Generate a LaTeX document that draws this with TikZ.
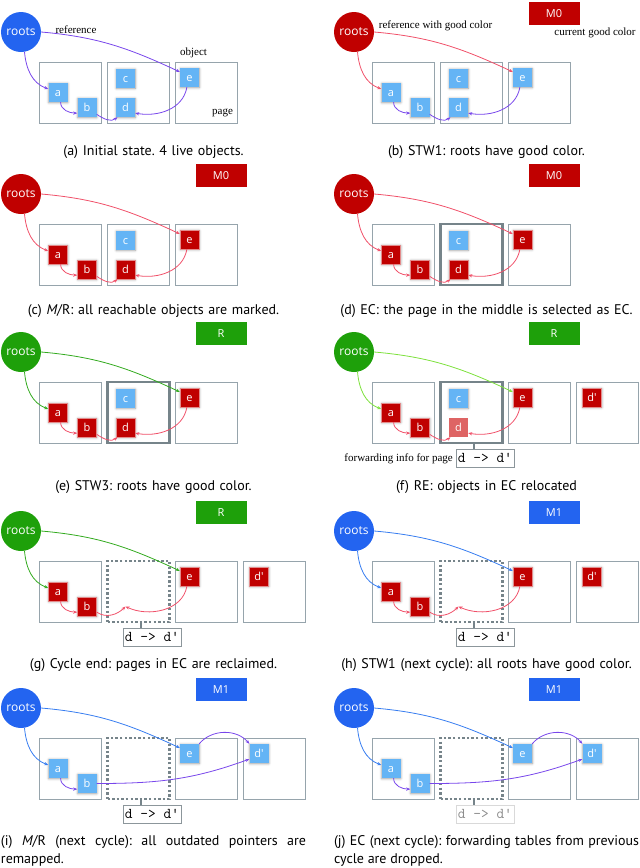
\documentclass[tikz,border=0pt]{standalone}
\usepackage{fontspec}
\usepackage{xcolor}
\usepackage{tikz}
\usetikzlibrary{arrows.meta, positioning, shadows.blur}
\newfontfamily\capfont{PT Sans}
\newfontfamily\objfont{Open Sans}
\newfontfamily\notefont{Liberation Serif}
\definecolor{liveblue}{RGB}{100,180,245}
\definecolor{markred}{RGB}{192,0,0}
\definecolor{movedred}{RGB}{222,100,100}
\definecolor{rootblue}{RGB}{35,100,240}
\definecolor{rootgreen}{RGB}{30,160,10}
\definecolor{pagegray}{RGB}{150,164,172}
\definecolor{ecgray}{RGB}{118,132,138}
\definecolor{refpurple}{RGB}{120,70,235}
\definecolor{goodred}{RGB}{240,80,105}
\definecolor{goodgreen}{RGB}{50,170,30}
\definecolor{lightgreen}{RGB}{125,225,60}
\definecolor{goodblue}{RGB}{55,125,240}
\definecolor{fwdgray}{RGB}{140,150,155}
\frenchspacing

\begin{document}
\begin{tikzpicture}[x=1pt, y=1pt, >={Stealth[length=4pt, width=3.2pt]},
  pagebox/.style={draw=pagegray, line width=0.9pt, minimum width=62pt, minimum height=61pt, inner sep=0pt},
  ecbox/.style={pagebox, draw=ecgray, line width=2.2pt},
  freedbox/.style={pagebox, draw=ecgray, line width=2.6pt, dash pattern=on 2.4pt off 2.2pt},
  soft/.style={blur shadow={shadow xshift=0.3pt, shadow yshift=-0.6pt, shadow blur radius=2.4pt, shadow opacity=40}},
  objbox/.style={minimum size=19pt, inner sep=0pt, text height=8pt, text depth=0pt, text=white, font=\objfont\fontsize{11}{12}\selectfont},
  liveobj/.style={objbox, soft, fill=liveblue},
  markobj/.style={objbox, soft, fill=markred, draw=markred!45!white, line width=0.5pt},
  movedobj/.style={objbox, fill=movedred},
  rootcircle/.style={circle, minimum size=40pt, inner sep=0pt, text=white, font=\objfont\fontsize{12}{13}\selectfont},
  colorbox/.style={minimum width=51pt, minimum height=22.7pt, inner sep=0pt, text=white, font=\objfont\fontsize{11}{12}\selectfont},
  fwdtable/.style={draw=fwdgray, fill=white, line width=0.8pt, inner xsep=2pt, inner ysep=4.5pt, text height=9pt, text depth=0pt, font=\ttfamily\fontsize{15}{16}\selectfont},
  fwdline/.style={draw=ecgray, line width=1.1pt},
  refarrow/.style={->, line width=0.8pt},
  note/.style={font=\notefont\fontsize{11}{12}\selectfont, inner sep=0pt},
  caption/.style={text width=305pt, align=center, inner sep=0pt, font=\capfont\fontsize{14}{18}\selectfont}]
  \useasboundingbox (0,0) rectangle (640,-868);

  % (a) initial state
  \begin{scope}[shift={(0,-62)}, name prefix=a-]
    \node[rootcircle, fill=rootblue] (roots) at (21,30) {roots};
    \foreach \i/\x in {1/70.5, 2/138.5, 3/206.5}
      \node[pagebox] (p\i) at (\x,-30.5) {};
    \node[liveobj] (a) at (58,-30.5) {a};
    \node[liveobj] (b) at (87,-45.5) {b};
    \node[liveobj] (c) at (125.5,-16.3) {c};
    \node[liveobj] (d) at (125.5,-45.5) {d};
    \node[liveobj] (e) at (189.5,-15.5) {e};
    \draw[refarrow, refpurple] (roots.-80) to[out=-85, in=160] (a.160);
    \draw[refarrow, refpurple] (roots.east) to[out=-5, in=155] (e.150);
    \draw[refarrow, refpurple] (a.-75) to[out=-90, in=180] (b.-150);
    \draw[refarrow, refpurple] (b.-35) to[out=-35, in=-140] (d.-130);
    \draw[refarrow, refpurple] (e.-105) to[out=-100, in=-10] (d.-30);
    \node[note] (lref) at (76,32) {reference};
    \node[note] (lobj) at (193.5,8.7) {object};
    \node[note] (lpage) at (222.5,-51.3) {page};
    \node[caption] (cap) at (153.5,-90) {(a) Initial state. 4 live objects.};
  \end{scope}

  % (b) STW1
  \begin{scope}[shift={(333,-62)}, name prefix=b-]
    \node[rootcircle, fill=markred] (roots) at (21,30) {roots};
    \foreach \i/\x in {1/70.5, 2/138.5, 3/206.5}
      \node[pagebox] (p\i) at (\x,-30.5) {};
    \node[liveobj] (a) at (58,-30.5) {a};
    \node[liveobj] (b) at (87,-45.5) {b};
    \node[liveobj] (c) at (125.5,-16.3) {c};
    \node[liveobj] (d) at (125.5,-45.5) {d};
    \node[liveobj] (e) at (189.5,-15.5) {e};
    \draw[refarrow, goodred] (roots.-80) to[out=-85, in=160] (a.160);
    \draw[refarrow, goodred] (roots.east) to[out=-5, in=155] (e.150);
    \draw[refarrow, refpurple] (a.-75) to[out=-90, in=180] (b.-150);
    \draw[refarrow, refpurple] (b.-35) to[out=-35, in=-140] (d.-130);
    \draw[refarrow, refpurple] (e.-105) to[out=-100, in=-10] (d.-30);
    \node[colorbox, fill=markred] (gc) at (221,48.5) {M0};
    \node[note] (lref) at (102.5,35.7) {reference with good color};
    \node[note] (lgc) at (262,29.4) {current good color};
    \node[caption] (cap) at (153.5,-90) {(b) STW1: roots have good color.};
  \end{scope}

  % (c) mark
  \begin{scope}[shift={(0,-224)}, name prefix=c-]
    \node[rootcircle, fill=markred] (roots) at (21,30) {roots};
    \foreach \i/\x in {1/70.5, 2/138.5, 3/206.5}
      \node[pagebox] (p\i) at (\x,-30.5) {};
    \node[markobj] (a) at (58,-30.5) {a};
    \node[markobj] (b) at (87,-45.5) {b};
    \node[liveobj] (c) at (125.5,-16.3) {c};
    \node[markobj] (d) at (125.5,-45.5) {d};
    \node[markobj] (e) at (189.5,-15.5) {e};
    \draw[refarrow, goodred] (roots.-80) to[out=-85, in=160] (a.160);
    \draw[refarrow, goodred] (roots.east) to[out=-5, in=155] (e.150);
    \draw[refarrow, goodred] (a.-75) to[out=-90, in=180] (b.-150);
    \draw[refarrow, goodred] (b.-35) to[out=-35, in=-140] (d.-130);
    \draw[refarrow, goodred] (e.-105) to[out=-100, in=-10] (d.-30);
    \node[colorbox, fill=markred] (gc) at (221,48.5) {M0};
    \node[caption] (cap) at (153.5,-87) {(c) {\itshape M}/R: all reachable objects are marked.};
  \end{scope}

  % (d) EC selection
  \begin{scope}[shift={(333,-224)}, name prefix=d-]
    \node[rootcircle, fill=markred] (roots) at (21,30) {roots};
    \foreach \i/\x in {1/70.5, 3/206.5}
      \node[pagebox] (p\i) at (\x,-30.5) {};
    \node[ecbox] (p2) at (138.5,-30.5) {};
    \node[markobj] (a) at (58,-30.5) {a};
    \node[markobj] (b) at (87,-45.5) {b};
    \node[liveobj] (c) at (125.5,-16.3) {c};
    \node[markobj] (d) at (125.5,-45.5) {d};
    \node[markobj] (e) at (189.5,-15.5) {e};
    \draw[refarrow, goodred] (roots.-80) to[out=-85, in=160] (a.160);
    \draw[refarrow, goodred] (roots.east) to[out=-5, in=155] (e.150);
    \draw[refarrow, goodred] (a.-75) to[out=-90, in=180] (b.-150);
    \draw[refarrow, goodred] (b.-35) to[out=-35, in=-140] (d.-130);
    \draw[refarrow, goodred] (e.-105) to[out=-100, in=-10] (d.-30);
    \node[colorbox, fill=markred] (gc) at (221,48.5) {M0};
    \node[caption] (cap) at (153.5,-87) {(d) EC: the page in the middle is selected as EC.};
  \end{scope}

  % (e) STW3
  \begin{scope}[shift={(0,-382)}, name prefix=e-]
    \node[rootcircle, fill=rootgreen] (roots) at (21,30) {roots};
    \foreach \i/\x in {1/70.5, 3/206.5}
      \node[pagebox] (p\i) at (\x,-30.5) {};
    \node[ecbox] (p2) at (138.5,-30.5) {};
    \node[markobj] (a) at (58,-30.5) {a};
    \node[markobj] (b) at (87,-45.5) {b};
    \node[liveobj] (c) at (125.5,-16.3) {c};
    \node[markobj] (d) at (125.5,-45.5) {d};
    \node[markobj] (e) at (189.5,-15.5) {e};
    \draw[refarrow, goodgreen] (roots.-80) to[out=-85, in=160] (a.160);
    \draw[refarrow, goodgreen] (roots.east) to[out=-5, in=155] (e.150);
    \draw[refarrow, goodred] (a.-75) to[out=-90, in=180] (b.-150);
    \draw[refarrow, goodred] (b.-35) to[out=-35, in=-140] (d.-130);
    \draw[refarrow, goodred] (e.-105) to[out=-100, in=-10] (d.-30);
    \node[colorbox, fill=rootgreen] (gc) at (221,48.5) {R};
    \node[caption] (cap) at (153.5,-105) {(e) STW3: roots have good color.};
  \end{scope}

  % (f) relocation
  \begin{scope}[shift={(333,-382)}, name prefix=f-]
    \node[rootcircle, fill=rootgreen] (roots) at (21,30) {roots};
    \foreach \i/\x in {1/70.5, 3/206.5, 4/274.5}
      \node[pagebox] (p\i) at (\x,-30.5) {};
    \node[ecbox] (p2) at (138.5,-30.5) {};
    \node[markobj] (a) at (58,-30.5) {a};
    \node[markobj] (b) at (87,-45.5) {b};
    \node[liveobj] (c) at (125.5,-16.3) {c};
    \node[movedobj] (d) at (125.5,-45.5) {d};
    \node[markobj] (e) at (189.5,-15.5) {e};
    \node[markobj] (dnew) at (259,-15.5) {d\textquotesingle};
    \draw[refarrow, lightgreen] (roots.-80) to[out=-85, in=160] (a.160);
    \draw[refarrow, lightgreen] (roots.east) to[out=-5, in=155] (e.150);
    \draw[refarrow, goodred] (a.-75) to[out=-90, in=180] (b.-150);
    \draw[refarrow, goodred] (b.-35) to[out=-35, in=-140] (d.-130);
    \draw[refarrow, goodred] (e.-105) to[out=-100, in=-10] (d.-30);
    \node[colorbox, fill=rootgreen] (gc) at (221,48.5) {R};
    \node[fwdtable] (fwd) at (152,-76) {d -> d\textquotesingle};
    \draw[fwdline] ([xshift=2.5pt]p2.south) -- ([xshift=2.5pt]p2.south |- fwd.north);
    \node[note, left=2.5pt of fwd, yshift=-1pt] (lfwd) {forwarding info for page};
    \node[caption] (cap) at (153.5,-105) {(f) RE: objects in EC relocated};
  \end{scope}

  % (g) cycle end
  \begin{scope}[shift={(0,-561)}, name prefix=g-]
    \node[rootcircle, fill=rootgreen] (roots) at (21,30) {roots};
    \foreach \i/\x in {1/70.5, 3/206.5, 4/274.5}
      \node[pagebox] (p\i) at (\x,-30.5) {};
    \node[freedbox] (p2) at (138.5,-30.5) {};
    \node[markobj] (a) at (58,-30.5) {a};
    \node[markobj] (b) at (87,-45.5) {b};
    \node[markobj] (e) at (189.5,-15.5) {e};
    \node[markobj] (dnew) at (259,-15.5) {d\textquotesingle};
    \coordinate (dold) at (125.5,-45.5);
    \draw[refarrow, goodgreen] (roots.-80) to[out=-85, in=160] (a.160);
    \draw[refarrow, goodgreen] (roots.east) to[out=-5, in=155] (e.150);
    \draw[refarrow, goodred] (a.-75) to[out=-90, in=180] (b.-150);
    \draw[refarrow, goodred] (b.-30) to[out=-35, in=-135] (dold);
    \draw[refarrow, goodred] (e.-105) to[out=-100, in=-25] (dold);
    \node[colorbox, fill=rootgreen] (gc) at (221,48.5) {R};
    \node[fwdtable] (fwd) at (152,-76) {d -> d\textquotesingle};
    \draw[fwdline] ([xshift=2.5pt]p2.south) -- ([xshift=2.5pt]p2.south |- fwd.north);
    \node[caption] (cap) at (153.5,-104) {(g) Cycle end: pages in EC are reclaimed.};
  \end{scope}

  % (h) STW1, next cycle
  \begin{scope}[shift={(333,-561)}, name prefix=h-]
    \node[rootcircle, fill=rootblue] (roots) at (21,30) {roots};
    \foreach \i/\x in {1/70.5, 3/206.5, 4/274.5}
      \node[pagebox] (p\i) at (\x,-30.5) {};
    \node[freedbox] (p2) at (138.5,-30.5) {};
    \node[markobj] (a) at (58,-30.5) {a};
    \node[markobj] (b) at (87,-45.5) {b};
    \node[markobj] (e) at (189.5,-15.5) {e};
    \node[markobj] (dnew) at (259,-15.5) {d\textquotesingle};
    \coordinate (dold) at (125.5,-45.5);
    \draw[refarrow, goodblue] (roots.-80) to[out=-85, in=160] (a.160);
    \draw[refarrow, goodblue] (roots.east) to[out=-5, in=155] (e.150);
    \draw[refarrow, goodred] (a.-75) to[out=-90, in=180] (b.-150);
    \draw[refarrow, goodred] (b.-30) to[out=-35, in=-135] (dold);
    \draw[refarrow, goodred] (e.-105) to[out=-100, in=-25] (dold);
    \node[colorbox, fill=rootblue] (gc) at (221,48.5) {M1};
    \node[fwdtable] (fwd) at (152,-76) {d -> d\textquotesingle};
    \draw[fwdline] ([xshift=2.5pt]p2.south) -- ([xshift=2.5pt]p2.south |- fwd.north);
    \node[caption] (cap) at (153.5,-104) {(h) STW1 (next cycle): all roots have good color.};
  \end{scope}

  % (i) remap
  \begin{scope}[shift={(0,-738)}, name prefix=i-]
    \node[rootcircle, fill=rootblue] (roots) at (21,30) {roots};
    \foreach \i/\x in {1/70.5, 3/206.5, 4/274.5}
      \node[pagebox] (p\i) at (\x,-30.5) {};
    \node[freedbox] (p2) at (138.5,-30.5) {};
    \node[liveobj] (a) at (58,-30.5) {a};
    \node[liveobj] (b) at (87,-45.5) {b};
    \node[liveobj] (e) at (189.5,-15.5) {e};
    \node[liveobj] (dnew) at (259,-15.5) {d\textquotesingle};
    \draw[refarrow, goodblue] (roots.-80) to[out=-85, in=160] (a.160);
    \draw[refarrow, goodblue] (roots.east) to[out=-5, in=155] (e.150);
    \draw[refarrow, refpurple] (a.-75) to[out=-90, in=180] (b.-150);
    \draw[refarrow, refpurple] (b.east) to[out=0, in=200] (dnew.-150);
    \draw[refarrow, refpurple] (e.45) to[out=50, in=130] (dnew.135);
    \node[colorbox, fill=rootblue] (gc) at (221,48.5) {M1};
    \node[fwdtable] (fwd) at (152,-76) {d -> d\textquotesingle};
    \draw[fwdline] ([xshift=2.5pt]p2.south) -- ([xshift=2.5pt]p2.south |- fwd.north);
    \node[caption, align=justify, anchor=north] (cap) at (153.5,-97) {(i) {\itshape M}/R (next cycle): all outdated pointers are\linebreak remapped.};
  \end{scope}

  % (j) EC, next cycle
  \begin{scope}[shift={(333,-738)}, name prefix=j-]
    \node[rootcircle, fill=rootblue] (roots) at (21,30) {roots};
    \foreach \i/\x in {1/70.5, 3/206.5, 4/274.5}
      \node[pagebox] (p\i) at (\x,-30.5) {};
    \node[freedbox] (p2) at (138.5,-30.5) {};
    \node[liveobj] (a) at (58,-30.5) {a};
    \node[liveobj] (b) at (87,-45.5) {b};
    \node[liveobj] (e) at (189.5,-15.5) {e};
    \node[liveobj] (dnew) at (259,-15.5) {d\textquotesingle};
    \draw[refarrow, goodblue] (roots.-80) to[out=-85, in=160] (a.160);
    \draw[refarrow, goodblue] (roots.east) to[out=-5, in=155] (e.150);
    \draw[refarrow, refpurple] (a.-75) to[out=-90, in=180] (b.-150);
    \draw[refarrow, refpurple] (b.east) to[out=0, in=200] (dnew.-150);
    \draw[refarrow, refpurple] (e.45) to[out=50, in=130] (dnew.135);
    \node[colorbox, fill=rootblue] (gc) at (221,48.5) {M1};
    \node[fwdtable, draw=black!15, text=black!45] (fwd) at (152,-76) {d -> d\textquotesingle};
    \draw[fwdline] ([xshift=2.5pt]p2.south) -- ([xshift=2.5pt]p2.south |- fwd.north);
    \node[caption, align=justify, anchor=north] (cap) at (153.5,-97) {(j) EC (next cycle): forwarding tables from previous\linebreak cycle are dropped.};
  \end{scope}
\end{tikzpicture}
\end{document}
